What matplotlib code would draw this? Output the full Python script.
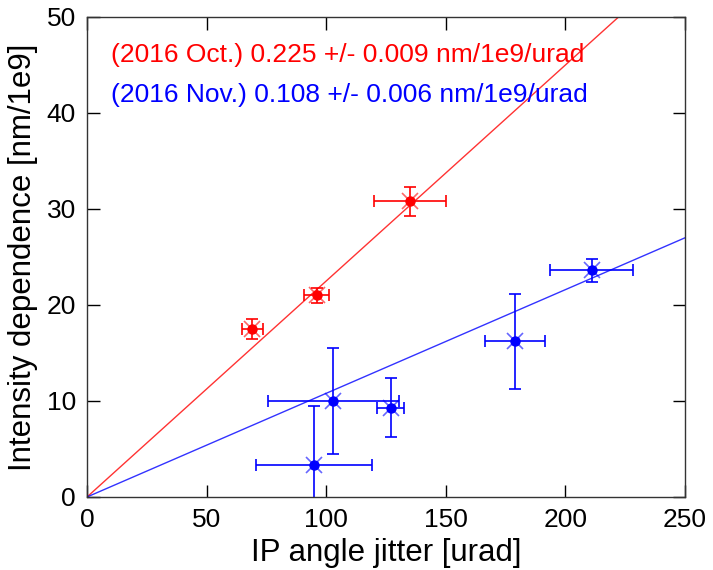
import numpy as np
import matplotlib
matplotlib.use("Agg")
import matplotlib.pyplot as plt

plt.rcParams['font.family'] = ['Liberation Sans', 'DejaVu Sans']

# 2016 Oct. measurements
oct_x = [69, 96, 135]
oct_y = [17.5, 21.0, 30.8]
oct_xerr = [4.4, 5.2, 14.9]
oct_yerr = [1.05, 0.8, 1.5]
oct_slope = 0.225

# 2016 Nov. measurements
nov_x = [95, 103, 127, 179, 211]
nov_y = [3.3, 10.0, 9.3, 16.2, 23.6]
nov_xerr = [24.3, 27.4, 5.6, 12.6, 17.4]
nov_yerr = [6.2, 5.5, 3.1, 4.9, 1.2]
nov_slope = 0.108

oct_label = "(2016 Oct.) 0.225 +/- 0.009 nm/1e9/urad"
nov_label = "(2016 Nov.) 0.108 +/- 0.006 nm/1e9/urad"

fig = plt.figure(figsize=(7.13, 5.70), dpi=100)
ax = fig.add_axes([87 / 713, 73 / 570, 598 / 713, 480 / 570])

xfit = np.array([0, 250])

for x, y, xe, ye, slope, col in [
    (oct_x, oct_y, oct_xerr, oct_yerr, oct_slope, '#ff0000'),
    (nov_x, nov_y, nov_xerr, nov_yerr, nov_slope, '#0000ff'),
]:
    ax.plot(xfit, slope * xfit, color=col, lw=1.0, alpha=0.8)
    ax.errorbar(x, y, xerr=xe, yerr=ye, fmt='none', ecolor=col,
                elinewidth=1.2, capsize=4, capthick=1.2)
    ax.plot(x, y, 'x', color=col, ms=11, mew=1.2, alpha=0.6)
    ax.plot(x, y, 'o', color=col, ms=6.5)

ax.text(0.04, 0.92, oct_label, color='#ff0000', fontsize=19,
        transform=ax.transAxes, va='center')
ax.text(0.04, 0.837, nov_label, color='#0000ff', fontsize=19,
        transform=ax.transAxes, va='center')

ax.set_xlim(0, 250)
ax.set_ylim(0, 50)
ax.set_xticks([0, 50, 100, 150, 200, 250])
ax.set_yticks([0, 10, 20, 30, 40, 50])
ax.tick_params(direction='in', length=9, width=1, top=True, right=True,
               labelsize=19, pad=8)
for s in ax.spines.values():
    s.set_linewidth(1.0)
    s.set_color('#333333')

ax.set_xlabel("IP angle jitter [urad]", fontsize=22.5, labelpad=4)
ax.set_ylabel("Intensity dependence [nm/1e9]", fontsize=22.5, labelpad=6)

fig.savefig("out.png", dpi=100)
